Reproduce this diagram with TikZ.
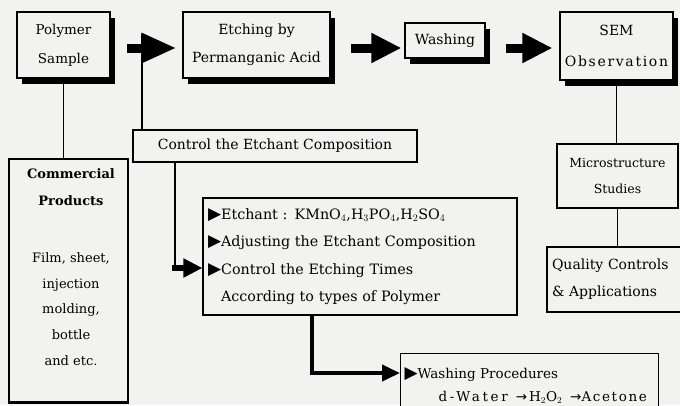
\documentclass[tikz,border=0pt]{standalone}
\usepackage{fontspec}
\setmainfont{DejaVu Serif}
\newfontfamily\symfont{DejaVu Sans}
\usetikzlibrary{arrows.meta,shadows,calc}
\definecolor{bg}{RGB}{242,242,240}
\newcommand{\tri}{{\symfont\fontsize{17}{17}\selectfont ▶}}
\newcommand{\rarr}{{\symfont →}}
\tikzset{
  box/.style={draw=black, line width=1.1pt, fill=bg, inner sep=0pt, align=center,
    font=\fontsize{14}{28}\selectfont},
  shbox/.style={box, drop shadow={shadow xshift=5pt, shadow yshift=-6pt, fill=black, opacity=1}},
  plaintext/.style={inner sep=0pt, align=center, font=\fontsize{13}{27}\selectfont},
  blockarrow/.style={line width=9pt, -{Triangle[length=30pt,width=28pt]}},
  thinline/.style={line width=1.1pt},
  elbowarrow/.style={line width=6pt, -{Triangle[length=19pt,width=18pt]}},
  washarrow/.style={line width=4pt, line join=miter, -{Triangle[length=18pt,width=16pt]}}
}
\begin{document}
\begin{tikzpicture}[x=1pt,y=-1pt]
\useasboundingbox (0,0) rectangle (680,405);
\fill[bg] (0,0) rectangle (680,405);
\clip (0,0) rectangle (680,405);

% top row
\node[shbox, minimum width=93pt, minimum height=66pt, font=\fontsize{13.5}{29}\selectfont] (ps) at (63.5,45) {Polymer\\Sample};
\node[shbox, minimum width=147pt, minimum height=66pt] (etch) at (256.5,45) {Etching by\\Permanganic Acid};
\node[shbox, minimum width=80pt, minimum height=35pt] (wash) at (445,40.5) {Washing};
\node[shbox, minimum width=113pt, minimum height=68pt, font=\fontsize{14}{31}\selectfont] (sem) at (616.5,46)
  {SEM\\{\addfontfeatures{LetterSpace=12}Observation}};

% middle
\node[box, minimum width=284pt, minimum height=32pt] (ctrl) at (275,146) {Control the Etchant Composition};
\node[box, minimum width=119pt, minimum height=243pt] (cp) at (68.5,280.5) {};
\draw[line width=2.5pt] (cp.south west) -- (cp.south east);
\node[plaintext, anchor=north] (cpt) at (71,168) {\textbf{Commercial}\\\textbf{Products}\\[30pt]Film, sheet,\\[-1pt]injection\\[-2pt]molding,\\[-1pt]bottle\\[-1pt]and etc.};

\node[box, align=left, text width=304pt, inner xsep=5pt, minimum height=117pt,
  font=\fontsize{14.3}{27.5}\selectfont] (etchant) at (360,256.5)
  {\tri Etchant : KMnO$_4$,H$_3$PO$_4$,H$_2$SO$_4$\\
   \tri Adjusting the Etchant Composition\\
   \tri Control the Etching Times\\
   \phantom{\tri}According to types of Polymer};

\node[box, align=left, text width=250pt, inner xsep=4pt, minimum height=64pt, anchor=north west,
  font=\fontsize{13.5}{23}\selectfont] (wp) at (400,353)
  {\tri Washing Procedures\\
   \hspace{34pt}{\addfontfeatures{LetterSpace=20}d-Water}\hspace{8pt}\rarr\kern2pt H$_2$O$_2$\hspace{8pt}\rarr{\addfontfeatures{LetterSpace=12}Acetone}};

\node[box, minimum width=121pt, minimum height=64pt, font=\fontsize{12.5}{26}\selectfont] (micro) at (617.5,176) {Microstructure\\Studies};
\node[box, align=left, text width=133pt, inner xsep=5pt, minimum height=65pt, font=\fontsize{14}{27}\selectfont] (qual) at (618.5,279.5)
  {Quality Controls\\\& Applications};

% block arrows
\coordinate (arrowrow) at (0,48);
\draw[blockarrow, -{Triangle[length=35pt,width=28pt]}] ($(ps.east |- arrowrow)+(16,0)$) -- ($(etch.west |- arrowrow)+(-6,0)$);
\draw[blockarrow] ($(etch.east |- arrowrow)+(20,0)$) -- ($(wash.west |- arrowrow)+(-3,0)$);
\draw[blockarrow] ($(wash.east |- arrowrow)+(20,0)$) -- ($(sem.west |- arrowrow)+(-7,0)$);

% thin connectors
\draw[thinline] (ps.south) -- (ps.south |- cp.north);
\coordinate (a1top) at (142,34);
\draw[thinline] (a1top) -- (a1top |- ctrl.north);
\draw[thinline] (sem.south) -- (sem.south |- micro.north);
\draw[thinline] (micro.south) -- (micro.south |- qual.north);

% control -> etchant
\coordinate (c1) at (175,268);
\draw[line width=2pt] (ctrl.south -| c1) -- (c1);
\draw[elbowarrow] ($(c1)+(-3,0)$) -- (c1 -| etchant.west);

% etchant -> washing procedures
\coordinate (c2) at (312,373);
\draw[washarrow] (etchant.south -| c2) -- (c2) -- (c2 -| wp.west);
\end{tikzpicture}
\end{document}
